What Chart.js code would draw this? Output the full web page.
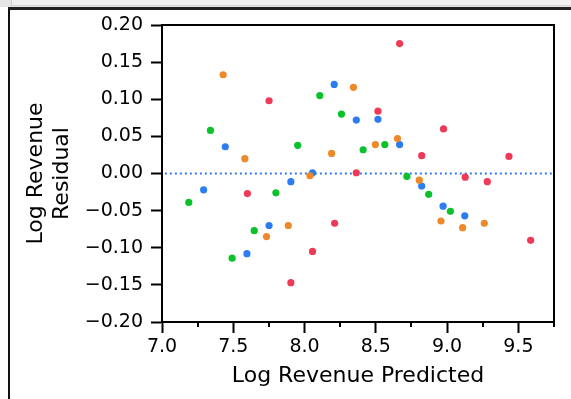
<!DOCTYPE html>
<html>
<head>
<meta charset="utf-8">
<script src="https://cdn.jsdelivr.net/npm/chart.js@4.4.1/dist/chart.umd.min.js"></script>
<style>
  html, body { margin: 0; padding: 0; background: #fff; }
  body { width: 571px; height: 399px; position: relative; overflow: hidden; }
  .strip { position: absolute; left: 0; top: 0; width: 571px; height: 7px; background: #e6e6e6; }
  .strip-inner { position: absolute; left: 11px; top: 0; right: 0; height: 5px; background: #f2f2f2; border-left: 1px solid #cfcfcf; border-bottom: 1px solid #d6d6d6; }
  .frame { position: absolute; left: 8px; top: 7px; width: 570px; height: 400px; border-left: 2px solid #111; border-top: 3px solid #222; }
  #residChart { position: absolute; left: 0; top: 0; }
</style>
</head>
<body>
<div class="strip"><div class="strip-inner"></div></div>
<div class="frame"></div>
<canvas id="residChart" width="571" height="399"></canvas>
<script>
// Log Revenue Predicted (x) / Log Revenue Residual (y), one pair of arrays per group
const redX    = [8.667, 7.751, 8.515, 8.975, 8.822, 9.434, 8.363, 9.127, 9.282, 7.599, 8.211, 8.056, 7.904, 9.586];
const redY    = [0.175, 0.098, 0.084, 0.060, 0.024, 0.023, 0.001, -0.005, -0.011, -0.027, -0.067, -0.105, -0.147, -0.090];
const orangeX = [7.429, 8.343, 7.581, 8.190, 8.497, 8.652, 8.038, 8.805, 7.886, 7.733, 8.957, 9.109, 9.261];
const orangeY = [0.133, 0.116, 0.020, 0.027, 0.039, 0.047, -0.003, -0.009, -0.070, -0.085, -0.064, -0.073, -0.067];
const greenX  = [7.340, 8.107, 8.259, 7.952, 8.411, 8.563, 8.718, 8.871, 9.023, 7.799, 7.647, 7.492, 7.188];
const greenY  = [0.058, 0.105, 0.080, 0.038, 0.032, 0.039, -0.004, -0.028, -0.051, -0.026, -0.077, -0.114, -0.039];
const blueX   = [8.208, 8.363, 8.515, 7.444, 8.667, 8.056, 7.904, 7.292, 8.822, 8.972, 9.124, 7.751, 7.596];
const blueY   = [0.120, 0.072, 0.073, 0.036, 0.039, 0.001, -0.011, -0.022, -0.017, -0.044, -0.057, -0.070, -0.108];

// reference line at zero residual
const zeroX = [7.02, 9.74];
const zeroY = [0, 0];

const xTicks = [7.0, 7.5, 8.0, 8.5, 9.0, 9.5];
const xMinorTicks = [7.25, 7.75, 8.25, 8.75, 9.25, 9.75];
const yTicks = [-0.20, -0.15, -0.10, -0.05, 0.00, 0.05, 0.10, 0.15, 0.20];

function pairs(xs, ys) {
    return xs.map(function (x, i) { return { x: x, y: ys[i] }; });
}

function dots(xs, ys, color) {
    return {
        type: 'scatter',
        data: pairs(xs, ys),
        backgroundColor: color,
        borderWidth: 0,
        pointRadius: 3.6,
        pointHoverRadius: 3.6,
        order: 1
    };
}

// frame around the plot area plus the short minor ticks on x
const frameAndMinor = {
    id: 'frameAndMinor',
    afterDraw(chart) {
        const ctx = chart.ctx;
        const a = chart.chartArea;
        const xs = chart.scales.x;
        ctx.save();
        ctx.strokeStyle = '#000';
        ctx.lineWidth = 2;
        ctx.strokeRect(a.left, a.top, a.right - a.left, a.bottom - a.top);
        ctx.beginPath();
        xMinorTicks.forEach(function (v) {
            const px = Math.round(xs.getPixelForValue(v));
            ctx.moveTo(px, a.bottom);
            ctx.lineTo(px, a.bottom + 5);
        });
        ctx.stroke();
        ctx.restore();
    }
};

const minus = function (v) {
    return v.toFixed(2).replace('-', '\u2212');
};

new Chart(document.getElementById('residChart'), {
    type: 'scatter',
    data: {
        datasets: [
            dots(redX, redY, 'rgb(238, 58, 88)'),
            dots(orangeX, orangeY, 'rgb(238, 137, 42)'),
            dots(greenX, greenY, 'rgb(12, 194, 44)'),
            dots(blueX, blueY, 'rgb(45, 124, 240)'),
            {
                type: 'line',
                data: pairs(zeroX, zeroY),
                borderColor: 'rgb(50, 120, 240)',
                borderWidth: 2,
                borderDash: [2, 3],
                pointRadius: 0,
                fill: false,
                order: 5
            }
        ]
    },
    plugins: [frameAndMinor],
    options: {
        responsive: false,
        animation: false,
        devicePixelRatio: 1,
        layout: { padding: { top: 25, right: 17, left: 0, bottom: 0 } },
        plugins: { legend: { display: false }, tooltip: { enabled: false } },
        scales: {
            x: {
                type: 'linear',
                min: 7.0,
                max: 9.75,
                afterFit(scale) { scale.height = 77; },
                afterBuildTicks(scale) { scale.ticks = xTicks.map(function (v) { return { value: v }; }); },
                border: { display: true, color: '#000', width: 2 },
                grid: { drawOnChartArea: false, drawTicks: true, tickLength: 11, tickWidth: 2, tickColor: '#000' },
                ticks: {
                    color: '#000',
                    padding: 3,
                    maxRotation: 0,
                    autoSkip: false,
                    font: { family: 'DejaVu Sans', size: 19 },
                    callback: function (v) { return v.toFixed(1); }
                },
                title: {
                    display: true,
                    text: 'Log Revenue Predicted',
                    color: '#000',
                    font: { family: 'DejaVu Sans', size: 22 },
                    padding: { top: 0, bottom: 10 }
                }
            },
            y: {
                type: 'linear',
                min: -0.20,
                max: 0.20,
                afterFit(scale) { scale.width = 162; },
                afterBuildTicks(scale) { scale.ticks = yTicks.map(function (v) { return { value: v }; }); },
                border: { display: true, color: '#000', width: 2 },
                grid: { drawOnChartArea: false, drawTicks: true, tickLength: 11, tickWidth: 2, tickColor: '#000' },
                ticks: {
                    color: '#000',
                    padding: 8,
                    autoSkip: false,
                    font: { family: 'DejaVu Sans', size: 19 },
                    callback: minus
                },
                title: {
                    display: true,
                    text: ['Log Revenue', 'Residual'],
                    color: '#000',
                    font: { family: 'DejaVu Sans', size: 22, lineHeight: 1.2 },
                    padding: { top: 23, bottom: 0 }
                }
            }
        }
    }
});
</script>
</body>
</html>
